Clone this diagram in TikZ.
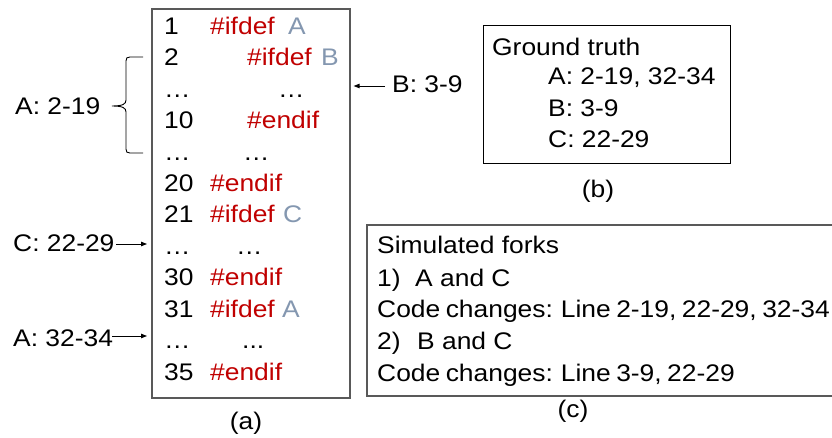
\documentclass[tikz,border=0pt]{standalone}
\usepackage{fontspec}
\setmainfont[FakeStretch=1.1]{Liberation Sans}
\usetikzlibrary{arrows.meta}
\definecolor{kwred}{HTML}{C00000}
\definecolor{macro}{HTML}{8497B0}
\definecolor{frame}{HTML}{595959}
\begin{document}
\begin{tikzpicture}[x=1pt,y=-1pt,
  every node/.style={inner sep=0pt, font=\fontsize{24}{28}\selectfont},
  txt/.style={anchor=base west},
  tight/.style={txt, execute at begin node={\spaceskip=5.5pt plus 1pt minus 1pt\relax}},
  kw/.style={txt, text=kwred},
  mac/.style={txt, text=macro},
  caption/.style={anchor=base},
  listbox/.style={draw=frame, line width=1.6pt, anchor=north west},
  infobox/.style={draw=black, line width=1.1pt, anchor=north west},
  ptr/.style={-{Triangle[length=6pt,width=4.5pt]}, line width=0.9pt}
]
\useasboundingbox (0,0) rectangle (832,438);

% ---------- (a) code listing ----------
\node[listbox, minimum width=198pt, minimum height=388.5pt] (lst) at (151,8.5) {};

\node[txt] (n1)  at (164,34.5) {1};
\node[kw]  (k1)  at (210,34.5) {\#ifdef};
\node[mac] (m1)  at (288,34.5) {A};

\node[txt] (n2)  at (164,65.9) {2};
\node[kw]  (k2)  at (247,65.9) {\#ifdef};
\node[mac] (m2)  at (321,65.9) {B};

\node[txt] (d3a) at (164,97.3) {…};
\node[txt] (d3b) at (278,97.3) {…};

\node[txt] (n10) at (164,128.7) {10};
\node[kw]  (k10) at (247,128.7) {\#endif};

\node[txt] (d5a) at (164,160.1) {…};
\node[txt] (d5b) at (243,160.1) {…};

\node[txt] (n20) at (164,191.5) {20};
\node[kw]  (k20) at (210,191.5) {\#endif};

\node[txt] (n21) at (164,222.9) {21};
\node[kw]  (k21) at (210,222.9) {\#ifdef};
\node[mac] (m21) at (283,222.9) {C};

\node[txt] (d8a) at (164,254.3) {…};
\node[txt] (d8b) at (236,254.3) {…};

\node[txt] (n30) at (164,285.7) {30};
\node[kw]  (k30) at (210,285.7) {\#endif};

\node[txt] (n31) at (164,317.1) {31};
\node[kw]  (k31) at (210,317.1) {\#ifdef};
\node[mac] (m31) at (282,317.1) {A};

\node[txt] (d11a) at (164,348.5) {…};
\node[txt] (d11b) at (242,348.5) {...};

\node[txt] (n35) at (164,380) {35};
\node[kw]  (k35) at (210,380) {\#endif};

\node[caption] (capa) at (246,429) {(a)};

% ---------- annotations around the listing ----------
\node[txt] (la1) at (15,115) {A: 2-19};
\coordinate (brtip) at (112,106);
\coordinate (brtop) at (143,57);
\coordinate (brbot) at (143,153);
\draw[line width=0.9pt] (brtop) -- (130,57)
  .. controls (127,57) and (126,58) .. (126,61) -- (126,100)
  .. controls (126,104) and (123,106) .. (brtip)
  .. controls (123,106) and (126,108) .. (126,112) -- (126,149)
  .. controls (126,152) and (127,153) .. (130,153) -- (brbot);

\node[txt] (lb) at (392,92.3) {B: 3-9};
\coordinate (bstart) at (385,86);
\draw[ptr, shorten >=3pt] (bstart) -- (bstart -| lst.east);

\node[txt] (lc) at (13,251.5) {C: 22-29};
\coordinate (cstart) at (116,244);
\draw[ptr, shorten >=4pt] (cstart) -- (cstart -| lst.west);

\node[txt] (la2) at (13,346.5) {A: 32-34};
\coordinate (astart) at (112,336);
\draw[ptr, shorten >=4pt] (astart) -- (astart -| lst.west);

% ---------- (b) ground truth ----------
\node[infobox, minimum width=247pt, minimum height=138pt] (gt) at (483,25) {};
\node[txt] (gt0) at (492,55.5) {Ground truth};
\node[txt] (gt1) at (548,85)   {A: 2-19, 32-34};
\node[txt] (gt2) at (548,116.5) {B: 3-9};
\node[txt] (gt3) at (548,148)  {C: 22-29};
\node[caption] (capb) at (598,198) {(b)};

% ---------- (c) simulated forks ----------
\coordinate (ctr) at (832,225);
\coordinate (ctl) at (367,225);
\coordinate (cbl) at (367,396);
\coordinate (cbr) at (832,396);
\draw[draw=frame, line width=1.4pt] (ctr) -- (ctl) -- (cbl) -- (cbr);
\node[txt] (sf0) at (377,254)   {Simulated forks};
\node[txt] (sf1) at (377,286)   {\makebox[38pt][l]{1)}A and C};
\node[tight] (sf2) at (377,317.5) {Code changes: Line 2-19, 22-29, 32-34};
\node[txt] (sf3) at (377,349)   {\makebox[40pt][l]{2)}B and C};
\node[tight] (sf4) at (377,381)   {Code changes: Line 3-9, 22-29};
\node[caption] (capc) at (573,417) {(c)};
\end{tikzpicture}
\end{document}
